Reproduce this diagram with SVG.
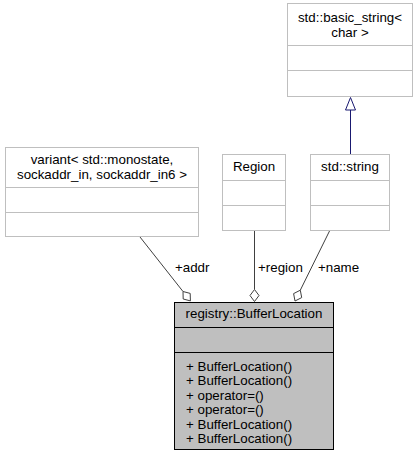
<svg xmlns="http://www.w3.org/2000/svg" width="419" height="457" viewBox="0 0 419 457">
<style>
  text { font-family: "Liberation Sans", Arial, Helvetica, sans-serif; font-size: 13.33px; fill: #000; }
  .c { text-anchor: middle; }
  .box { fill: #fff; stroke: #bfbfbf; stroke-width: 1; }
  .sep { stroke: #bfbfbf; stroke-width: 1; }
  .mbox { fill: #bfbfbf; stroke: #000; stroke-width: 1; }
  .msep { stroke: #000; stroke-width: 1; }
  .agg { fill: none; stroke: #404040; stroke-width: 1; }
  .dia { fill: #fff; stroke: #404040; stroke-width: 1; }
  .inh { fill: none; stroke: #191970; stroke-width: 1; }
  .tri { fill: #fff; stroke: #191970; stroke-width: 1; }
</style>
<rect width="419" height="457" fill="#fff"/>
<g id="connectors">
  <path class="inh" d="M350.5,154 L350.5,110"/>
  <polygon class="tri" points="350.5,97.5 355.5,110 345.5,110"/>
  <path class="agg" d="M140,237 L183,291.5"/>
  <polygon class="dia" points="183,291.5 190.2,293.4 190.4,300.9 183.2,299"/>
  <text x="175" y="272">+addr</text>
  <path class="agg" d="M254.5,231 L254.5,289.5"/>
  <polygon class="dia" points="254.5,289.5 259,295.5 254.5,301.5 250,295.5"/>
  <text x="258" y="272">+region</text>
  <path class="agg" d="M330,230 L300.3,290.2"/>
  <polygon class="dia" points="300.3,290.2 301.7,297.6 295,301 293.6,293.6"/>
  <text x="318" y="272">+name</text>
</g>
<g id="node-basic-string">
  <rect class="box" x="287.5" y="3.5" width="125" height="93"/>
  <line class="sep" x1="287.5" y1="45.5" x2="412.5" y2="45.5"/>
  <line class="sep" x1="287.5" y1="70.5" x2="412.5" y2="70.5"/>
  <text class="c" x="350" y="22">std::basic_string&lt;</text>
  <text class="c" x="350" y="37">char &gt;</text>
</g>
<g id="node-std-string">
  <rect class="box" x="310.5" y="154.5" width="79" height="76"/>
  <line class="sep" x1="310.5" y1="180.5" x2="389.5" y2="180.5"/>
  <line class="sep" x1="310.5" y1="205.5" x2="389.5" y2="205.5"/>
  <text class="c" x="350" y="171">std::string</text>
</g>
<g id="node-region">
  <rect class="box" x="222.5" y="154.5" width="63" height="76"/>
  <line class="sep" x1="222.5" y1="180.5" x2="285.5" y2="180.5"/>
  <line class="sep" x1="222.5" y1="205.5" x2="285.5" y2="205.5"/>
  <text class="c" x="254" y="171">Region</text>
</g>
<g id="node-variant">
  <rect class="box" x="5.5" y="147.5" width="193" height="89"/>
  <line class="sep" x1="5.5" y1="187.5" x2="198.5" y2="187.5"/>
  <line class="sep" x1="5.5" y1="212.5" x2="198.5" y2="212.5"/>
  <text class="c" x="102" y="164">variant&lt; std::monostate,</text>
  <text class="c" x="102" y="179">sockaddr_in, sockaddr_in6 &gt;</text>
</g>
<g id="node-buffer-location">
  <rect class="mbox" x="174.5" y="302.5" width="159" height="147"/>
  <line class="msep" x1="174.5" y1="327.5" x2="333.5" y2="327.5"/>
  <line class="msep" x1="174.5" y1="352.5" x2="333.5" y2="352.5"/>
  <text class="c" x="254" y="318">registry::BufferLocation</text>
  <text x="186" y="370.5">+ BufferLocation()</text>
  <text x="186" y="385">+ BufferLocation()</text>
  <text x="186" y="399.5">+ operator=()</text>
  <text x="186" y="414">+ operator=()</text>
  <text x="186" y="428.5">+ BufferLocation()</text>
  <text x="186" y="443">+ BufferLocation()</text>
</g>
</svg>
